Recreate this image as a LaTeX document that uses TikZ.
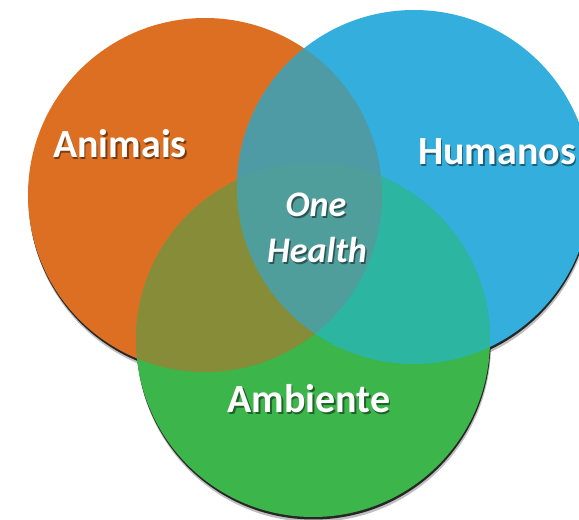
\documentclass[tikz,border=0pt]{standalone}
\usepackage{fontspec}
\setmainfont{Carlito}
\definecolor{animalorange}{HTML}{DD6F22}
\definecolor{humanblue}{HTML}{33AEDD}
\definecolor{envgreen}{HTML}{3CB54A}
\definecolor{orangeblue}{HTML}{4F9BA5} % Animais + Humanos
\definecolor{orangegreen}{HTML}{868C38} % Animais + Ambiente
\definecolor{bluegreen}{HTML}{2CB6A2} % Humanos + Ambiente
\definecolor{allthree}{HTML}{4F9E9C} % One Health
\tikzset{
  set label/.style={text=white, anchor=base, font=\bfseries\fontsize{40}{48}\selectfont},
  centre label/.style={text=white, anchor=base, font=\bfseries\itshape\fontsize{36}{46}\selectfont},
  text shadow/.style={text=black, opacity=0.45}
}
\begin{document}
\begin{tikzpicture}[x=1pt,y=1pt]
\clip (0,0) rectangle (579,520);
\fill[white] (0,0) rectangle (579,520);
\def\rad{177}
\coordinate (O) at (205,325); % Animais
\coordinate (H) at (414,333); % Humanos
\coordinate (E) at (313,180); % Ambiente
% shadows under the discs
\foreach \c in {O,H,E} {
  \fill[black, opacity=0.25] ([shift={(1,-5)}]\c) circle (\rad);
  \fill[black!85] ([shift={(0.5,-2.5)}]\c) circle (\rad);
}
\fill[animalorange] (O) circle (\rad);
\fill[humanblue] (H) circle (\rad);
\fill[envgreen] (E) circle (\rad);
% overlaps
\begin{scope}
  \clip (O) circle (\rad);
  \fill[orangeblue] (H) circle (\rad);
  \fill[orangegreen] (E) circle (\rad);
\end{scope}
\begin{scope}
  \clip (H) circle (\rad);
  \fill[bluegreen] (E) circle (\rad);
  \clip (E) circle (\rad);
  \fill[allthree] (O) circle (\rad);
\end{scope}
% labels
\node[set label, text shadow] (animaisS) at (121.5,360.5) {Animais};
\node[set label] (animais) at (120,362) {Animais};
\node[set label, text shadow] (humanosS) at (498.5,353.5) {Humanos};
\node[set label] (humanos) at (497,355) {Humanos};
\node[set label, text shadow] (ambienteS) at (310.5,105.5) {Ambiente};
\node[set label] (ambiente) at (309,107) {Ambiente};
\node[centre label, text shadow] (oneS) at (317.5,301.5) {One};
\node[centre label] (one) at (316,303) {One};
\node[centre label, text shadow] (healthS) at (318.5,255.5) {Health};
\node[centre label] (health) at (317,257) {Health};
\end{tikzpicture}
\end{document}
